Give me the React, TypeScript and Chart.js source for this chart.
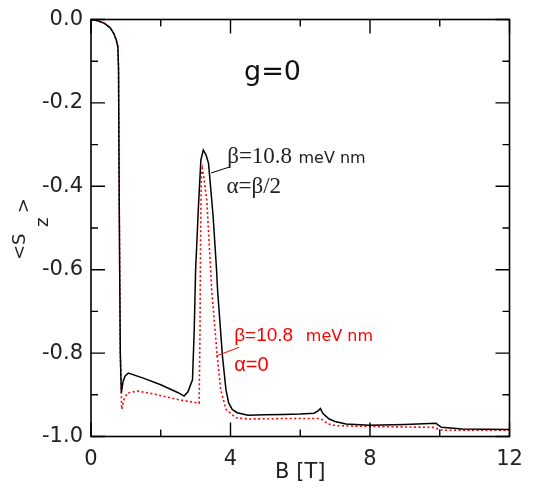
import { useEffect, useRef } from 'react';
import { Chart, registerables } from 'chart.js';
Chart.register(...registerables);

// ---- data ----
const bBlack = [
  0, 0.2, 0.4, 0.55, 0.65, 0.72, 0.77, 0.79, 0.81, 0.84,
  0.87, 0.92, 0.98, 1.07, 1.5, 2.0, 2.5, 2.67, 2.78, 2.86,
  2.91, 2.96, 3.0, 3.08, 3.15, 3.22, 3.3, 3.37, 3.5, 3.6,
  3.63, 3.77, 3.87, 3.95, 4.05, 4.19, 4.5, 5.0, 5.5, 6.0,
  6.4, 6.52, 6.58, 6.65, 6.83, 7.0, 7.31, 7.98, 9.0, 9.89,
  9.95, 10.05, 10.65, 12,
];
const szBlack = [
  0, -0.003, -0.01, -0.02, -0.033, -0.048, -0.065, -0.12, -0.45, -0.8,
  -0.895, -0.868, -0.855, -0.848, -0.86, -0.876, -0.895, -0.903, -0.893, -0.875,
  -0.864, -0.744, -0.6, -0.45, -0.337, -0.313, -0.325, -0.345, -0.47, -0.6,
  -0.65, -0.808, -0.888, -0.92, -0.935, -0.943, -0.949, -0.948, -0.947, -0.946,
  -0.944, -0.938, -0.933, -0.945, -0.958, -0.964, -0.97, -0.973, -0.971, -0.968,
  -0.972, -0.978, -0.982, -0.983,
];
const bRed = [
  0, 0.2, 0.4, 0.55, 0.65, 0.72, 0.77, 0.79, 0.81, 0.84,
  0.88, 0.95, 1.04, 1.33, 1.8, 2.53, 3.1, 3.125, 3.14, 3.155,
  3.17, 3.19, 3.23, 3.32, 3.43, 3.46, 3.62, 3.72, 3.87, 4.15,
  4.5, 5.5, 6.5, 6.64, 6.8, 7.02, 8.0, 9.8, 10.08, 12,
];
const szRed = [
  0, -0.003, -0.01, -0.02, -0.033, -0.048, -0.065, -0.12, -0.45, -0.8,
  -0.935, -0.91, -0.896, -0.891, -0.898, -0.912, -0.92, -0.75, -0.55, -0.42,
  -0.37, -0.357, -0.375, -0.433, -0.6, -0.648, -0.808, -0.888, -0.935, -0.955,
  -0.958, -0.957, -0.957, -0.96, -0.97, -0.974, -0.976, -0.978, -0.985, -0.985,
];
const seriesNames = ['α=β/2', 'α=0'];
const xMajorTicks = [0, 4, 8, 12];
const xMinorTicks = [2, 6, 10];
const yMajorTicks = [0, -0.2, -0.4, -0.6, -0.8, -1.0];
const yMinorTicks = [-0.1, -0.3, -0.5, -0.7, -0.9];
const xTitle = 'B [T]';

// ---- annotations (data coordinates) ----
type Note = { text: string; x: number; y: number; font: string; color: string };
const notes: Note[] = [
  { text: 'g=0', x: 4.39, y: -0.146, font: '27px "DejaVu Sans"', color: '#111' },
  { text: 'β=10.8', x: 3.905, y: -0.345, font: '23px "Liberation Serif"', color: '#222' },
  { text: 'meV nm', x: 5.95, y: -0.345, font: '16px "DejaVu Sans"', color: '#222' },
  { text: 'α=β/2', x: 3.885, y: -0.417, font: '23px "Liberation Serif"', color: '#222' },
  { text: 'β=10.8', x: 4.105, y: -0.772, font: '19px "Liberation Sans"', color: '#ff0000' },
  { text: 'meV nm', x: 6.16, y: -0.772, font: '16px "DejaVu Sans"', color: '#ff0000' },
  { text: 'α=0', x: 4.105, y: -0.844, font: '20px "Liberation Sans"', color: '#ff0000' },
];
const leaders = [
  { x1: 3.445, y1: -0.368, x2: 3.962, y2: -0.354, color: '#000' },
  { x1: 3.589, y1: -0.807, x2: 4.249, y2: -0.786, color: '#ff0000' },
];

const framePlugin = {
  id: 'frameTicks',
  afterDatasetsDraw(chart: any) {
    const { ctx, chartArea: a, scales } = chart;
    const xs = scales.x;
    const ys = scales.y;
    ctx.save();
    ctx.strokeStyle = '#000';
    ctx.lineWidth = 1.6;
    ctx.strokeRect(a.left, a.top, a.right - a.left, a.bottom - a.top);
    ctx.lineWidth = 1.4;
    const xt = (vals: number[], len: number) => {
      for (const v of vals) {
        const p = xs.getPixelForValue(v);
        ctx.beginPath();
        ctx.moveTo(p, a.bottom); ctx.lineTo(p, a.bottom - len);
        ctx.moveTo(p, a.top); ctx.lineTo(p, a.top + len);
        ctx.stroke();
      }
    };
    const yt = (vals: number[], len: number) => {
      for (const v of vals) {
        const p = ys.getPixelForValue(v);
        ctx.beginPath();
        ctx.moveTo(a.left, p); ctx.lineTo(a.left + len, p);
        ctx.moveTo(a.right, p); ctx.lineTo(a.right - len, p);
        ctx.stroke();
      }
    };
    xt(xMajorTicks, 14); xt(xMinorTicks, 7);
    yt(yMajorTicks, 14); yt(yMinorTicks, 7);

    // leaders
    ctx.lineWidth = 1;
    for (const l of leaders) {
      ctx.strokeStyle = l.color;
      ctx.beginPath();
      ctx.moveTo(xs.getPixelForValue(l.x1), ys.getPixelForValue(l.y1));
      ctx.lineTo(xs.getPixelForValue(l.x2), ys.getPixelForValue(l.y2));
      ctx.stroke();
    }
    // notes
    ctx.textAlign = 'left';
    ctx.textBaseline = 'alphabetic';
    for (const n of notes) {
      ctx.font = n.font;
      ctx.fillStyle = n.color;
      ctx.fillText(n.text, xs.getPixelForValue(n.x), ys.getPixelForValue(n.y));
    }
    // y title <S_z >
    ctx.save();
    ctx.translate(16.5, 252);
    ctx.rotate(-Math.PI / 2);
    ctx.fillStyle = '#222';
    ctx.font = '18px "DejaVu Sans"';
    ctx.fillText('<', 0, 0);
    ctx.fillText('S', 15, 0);
    ctx.fillText('z', 33, 23);
    ctx.fillText('>', 46.7, 4);
    ctx.restore();
    ctx.restore();
  },
};

export default function App() {
  const ref = useRef<HTMLCanvasElement>(null);
  useEffect(() => {
    if (!ref.current) return;
    Chart.defaults.font.family = '"DejaVu Sans"';
    const chart = new Chart(ref.current, {
      type: 'line',
      data: {
        datasets: [
          {
            label: seriesNames[0],
            data: bBlack.map((b, i) => ({ x: b, y: szBlack[i] })),
            borderColor: '#000',
            borderWidth: 1.5,
            pointRadius: 0,
            tension: 0,
            fill: false,
          },
          {
            label: seriesNames[1],
            data: bRed.map((b, i) => ({ x: b, y: szRed[i] })),
            borderColor: '#ff0000',
            borderWidth: 1.6,
            borderDash: [2, 2.5],
            pointRadius: 0,
            tension: 0,
            fill: false,
          },
        ],
      },
      options: {
        animation: false,
        responsive: false,
        events: [],
        layout: { padding: { top: 11.5, right: 23.5, left: 0, bottom: 0 } },
        plugins: { legend: { display: false }, tooltip: { enabled: false } },
        scales: {
          x: {
            type: 'linear',
            min: 0,
            max: 12,
            grid: { display: false, drawTicks: false },
            border: { display: false },
            afterBuildTicks: (s: any) => { s.ticks = xMajorTicks.map((v) => ({ value: v })); },
            afterFit: (s: any) => {
              s.height = 52.5;
              s.paddingLeft = 0; s.paddingRight = 0; s.paddingTop = 0; s.paddingBottom = 0;
            },
            ticks: {
              font: { family: '"DejaVu Sans"', size: 21, lineHeight: 1.2 },
              color: '#222',
              padding: 10,
              maxRotation: 0,
              callback: (v: any) => String(v),
            },
            title: {
              display: true,
              text: xTitle,
              font: { family: '"DejaVu Sans"', size: 21, lineHeight: 1.2 },
              color: '#222',
              padding: { top: 0, bottom: 4 },
            },
          },
          y: {
            type: 'linear',
            min: -1,
            max: 0,
            grid: { display: false, drawTicks: false },
            border: { display: false },
            afterBuildTicks: (s: any) => { s.ticks = yMajorTicks.map((v) => ({ value: v })); },
            afterFit: (s: any) => {
              s.width = 83;
              s.paddingLeft = 0; s.paddingRight = 0; s.paddingTop = 0; s.paddingBottom = 0;
            },
            ticks: {
              font: { family: '"DejaVu Sans"', size: 21, lineHeight: 1.2 },
              color: '#222',
              padding: 8,
              callback: (v: any) => Number(v).toFixed(1),
            },
          },
        },
      },
      plugins: [framePlugin],
    });
    return () => chart.destroy();
  }, []);
  return (
    <div style={{ width: 525, height: 481 }}>
      <canvas ref={ref} width={525} height={481} style={{ display: 'block' }} />
    </div>
  );
}
